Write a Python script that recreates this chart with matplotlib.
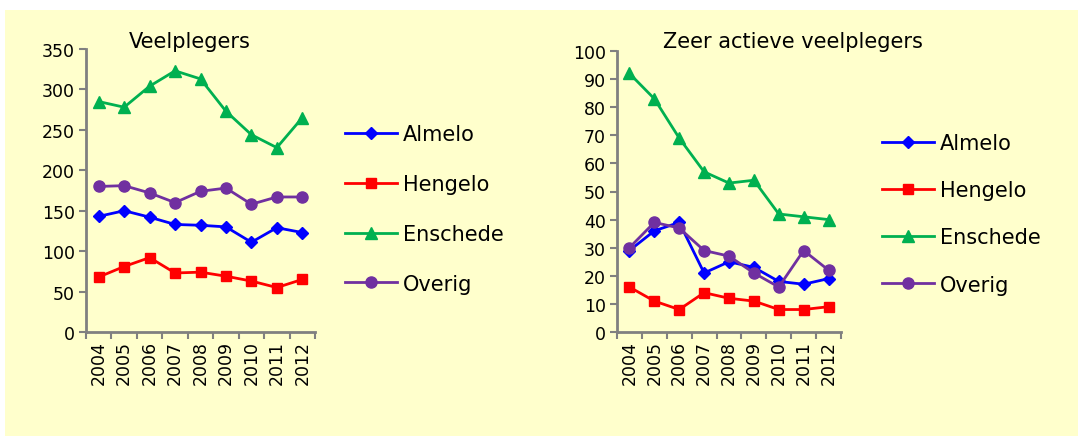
import numpy as np
import matplotlib
matplotlib.use("Agg")
import matplotlib.pyplot as plt
from matplotlib.patches import Rectangle

years = ["2004", "2005", "2006", "2007", "2008", "2009", "2010", "2011", "2012"]
names = ["Almelo", "Hengelo", "Enschede", "Overig"]

# Veelplegers
vp_almelo = [143, 150, 142, 133, 132, 130, 111, 129, 123]
vp_hengelo = [68, 81, 92, 73, 74, 69, 63, 55, 65]
vp_enschede = [285, 278, 304, 323, 313, 273, 244, 228, 265]
vp_overig = [180, 181, 172, 160, 174, 178, 158, 167, 167]

# Zeer actieve veelplegers
za_almelo = [29, 36, 39, 21, 25, 23, 18, 17, 19]
za_hengelo = [16, 11, 8, 14, 12, 11, 8, 8, 9]
za_enschede = [92, 83, 69, 57, 53, 54, 42, 41, 40]
za_overig = [30, 39, 37, 29, 27, 21, 16, 29, 22]

colors = ["#0000FF", "#FF0000", "#00B050", "#7030A0"]
markers = [("D", 6), ("s", 7), ("^", 8), ("o", 8)]
gray = "#808080"

fig = plt.figure(figsize=(10.78, 4.39), dpi=100)
W, H = 1078, 439
# yellow panel
fig.patches.append(Rectangle((5 / W, 2 / H), 1 - 5 / W, 426 / H,
                             transform=fig.transFigure, facecolor="#FFFFCC",
                             edgecolor="none", zorder=-10))


def draw(rect, series, ymax, ystep, title, title_x, leg_anchor, leg_space):
    ax = fig.add_axes(rect)
    ax.set_facecolor("none")
    x = np.arange(len(years))
    handles = []
    for vals, c, (m, ms), n in zip(series, colors, markers, names):
        h, = ax.plot(x, vals, color=c, lw=2, marker=m, markersize=ms, label=n,
                     clip_on=False)
        handles.append(h)
    ax.set_xlim(-0.5, len(years) - 0.5)
    ax.set_ylim(0, ymax)
    ax.set_yticks(np.arange(0, ymax + 1, ystep))
    ax.set_xticks(x)
    ax.set_xticklabels(years, rotation=90, fontsize=12.5)
    ax.set_xticks(np.arange(-0.5, len(years)), minor=True)
    ax.tick_params(axis="x", which="major", length=0, pad=6)
    ax.tick_params(axis="x", which="minor", length=5, color=gray, width=1.5)
    ax.tick_params(axis="y", length=5, color=gray, width=1.5, labelsize=12.5, pad=3)
    for s in ["top", "right"]:
        ax.spines[s].set_visible(False)
    for s in ["left", "bottom"]:
        ax.spines[s].set_color(gray)
        ax.spines[s].set_linewidth(2)
    fig.text(title_x, 1 - 42 / H, title, ha="center", va="center", fontsize=15)
    fig.legend(handles=handles, loc="upper left", bbox_to_anchor=leg_anchor,
               frameon=False, fontsize=15, handlelength=2.5, handletextpad=0.25,
               labelspacing=leg_space, borderaxespad=0)
    return ax


draw([86 / W, 1 - 333 / H, 229 / W, 283 / H],
     [vp_almelo, vp_hengelo, vp_enschede, vp_overig], 350, 50,
     "Veelplegers", 190 / W, (337 / W, 1 - 117 / H), 1.43)
draw([617 / W, 1 - 333 / H, 224 / W, 281 / H],
     [za_almelo, za_hengelo, za_enschede, za_overig], 100, 10,
     "Zeer actieve veelplegers", 793 / W, (874 / W, 1 - 126 / H), 1.3)

fig.savefig("out.png", dpi=100)
